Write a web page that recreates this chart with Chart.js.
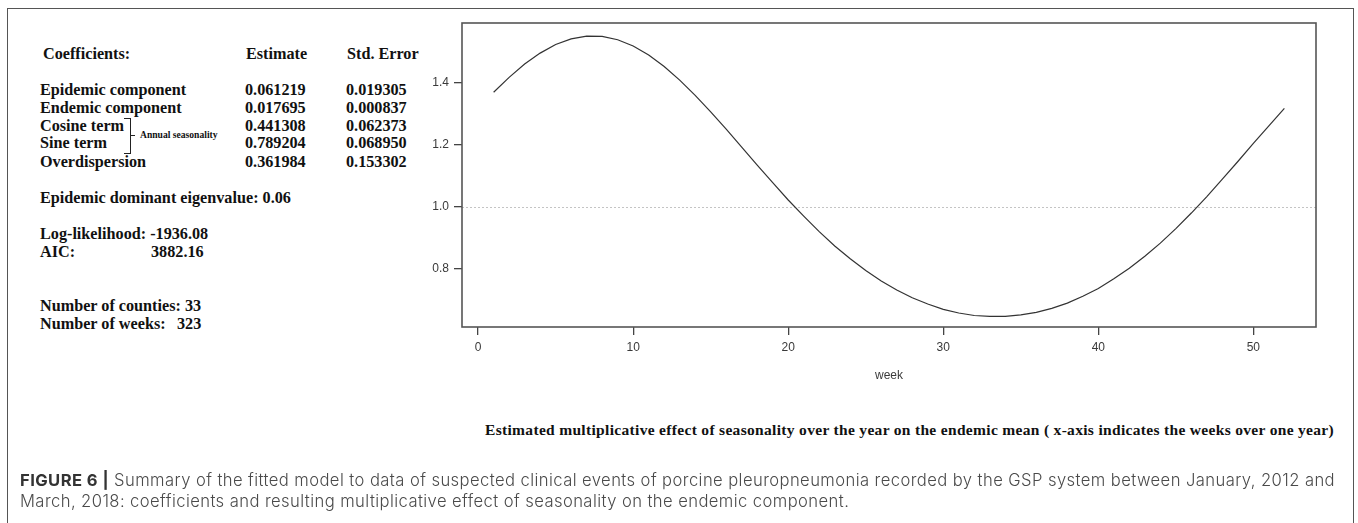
<!DOCTYPE html>
<html>
<head>
<meta charset="utf-8">
<script src="https://cdn.jsdelivr.net/npm/chart.js@4.4.1/dist/chart.umd.min.js"></script>
<style>
  html, body { margin: 0; padding: 0; background: #fff; }
  #fig { position: relative; width: 1358px; height: 523px; overflow: hidden; }
  #box { position: absolute; left: 7px; top: 8px; width: 1347px; height: 540px;
         border: 1.5px solid #555; box-sizing: border-box; }
  #chart { position: absolute; left: 0; top: 0; }
  .t { position: absolute; font-family: "Liberation Serif", "Times New Roman", serif;
       font-weight: bold; font-size: 16.2px; line-height: 18px; color: #111; white-space: pre; }
  #bracket { position: absolute; left: 124px; top: 118px; width: 6px; height: 34px;
             border: 1.3px solid #222; border-left: none; }
  #bracketTick { position: absolute; left: 131px; top: 135px; width: 4px; height: 0;
                 border-top: 1.3px solid #222; }
  #seasonNote { font-size: 9.6px; line-height: 10px; }
  #plotNote { font-size: 15.5px; }
  .cap { position: absolute; left: 20px; font-family: Inter, "Liberation Sans", Arial, sans-serif;
         font-weight: 300; font-size: 16.6px; line-height: 21px; color: #4a4a4a; white-space: pre; }
  .cap b { color: #333; font-weight: 700; }
</style>
</head>
<body>
<div id="fig">
  <div id="box"></div>
  <div id="left"></div>
  <div id="bracket"></div>
  <div id="bracketTick"></div>
  <canvas id="chart" width="1358" height="523"></canvas>
</div>
<script>
// --- data ---
const coefNames = ["Epidemic component", "Endemic component", "Cosine term", "Sine term", "Overdispersion"];
const coefEstimates = ["0.061219", "0.017695", "0.441308", "0.789204", "0.361984"];
const coefStdErrors = ["0.019305", "0.000837", "0.062373", "0.068950", "0.153302"];

const weeks = [1, 2, 3, 4, 5, 6, 7, 8, 9, 10, 11, 12, 13, 14, 15, 16, 17, 18, 19, 20,
  21, 22, 23, 24, 25, 26, 27, 28, 29, 30, 31, 32, 33, 34, 35, 36, 37, 38, 39, 40,
  41, 42, 43, 44, 45, 46, 47, 48, 49, 50, 51, 52];
const seasonEffect = [1.368, 1.416, 1.459, 1.494, 1.522, 1.540, 1.549, 1.548, 1.537, 1.517,
  1.488, 1.451, 1.407, 1.358, 1.305, 1.249, 1.191, 1.133, 1.077, 1.021,
  0.969, 0.919, 0.873, 0.832, 0.794, 0.760, 0.731, 0.706, 0.686, 0.669,
  0.657, 0.649, 0.646, 0.646, 0.651, 0.659, 0.672, 0.689, 0.711, 0.736,
  0.767, 0.801, 0.840, 0.882, 0.929, 0.979, 1.032, 1.088, 1.145, 1.203,
  1.260, 1.316];

const xTicks = [0, 10, 20, 30, 40, 50];
const yTicks = [0.8, 1.0, 1.2, 1.4];
const refLevel = 1.0;
const xRange = [-1.04, 54.04];
const yRange = [0.612, 1.591];

const plotNote = "Estimated multiplicative effect of seasonality over the year on the endemic mean ( x-axis indicates the weeks over one year)";
const captionLead = "FIGURE 6 |";
const captionLine1 = " Summary of the fitted model to data of suspected clinical events of porcine pleuropneumonia recorded by the GSP system between January, 2012 and";
const captionLine2 = "March, 2018: coefficients and resulting multiplicative effect of seasonality on the endemic component.";

// --- left text block ---
const fig = document.getElementById("fig");
const left = document.getElementById("left");
function addText(txt, x, yCenter, id) {
  const el = document.createElement("div");
  el.className = "t";
  if (id) el.id = id;
  el.textContent = txt;
  el.style.left = x + "px";
  el.style.top = (yCenter - 9) + "px";
  left.appendChild(el);
  return el;
}

// stretch a line of text to the width it has in the figure
function fitWidth(el, target) {
  const n = el.textContent.length;
  const w = el.getBoundingClientRect().width;
  const ls = (target - w) / n;
  el.style.letterSpacing = ls.toFixed(3) + "px";
  return ls;
}

addText("Coefficients:", 43, 54);
addText("Estimate", 246, 54);
addText("Std. Error", 347, 54);
const rowY = [90, 108, 126, 143, 162];
coefNames.forEach((name, i) => {
  addText(name, 40, rowY[i]);
  addText(coefEstimates[i], 245, rowY[i]);
  addText(coefStdErrors[i], 346, rowY[i]);
});
const note = addText("Annual seasonality", 140, 139, "seasonNote");
note.style.top = "130px";
addText("Epidemic dominant eigenvalue: 0.06", 40, 198);
addText("Log-likelihood: -1936.08", 40, 234);
addText("AIC:", 40, 252);
addText("3882.16", 151, 252);
addText("Number of counties: 33", 40, 306);
addText("Number of weeks:", 40, 324);
addText("323", 177, 324);

const noteEl = addText(plotNote, 485, 430, "plotNote");
fitWidth(noteEl, 1334 - 485);

const cap1 = document.createElement("div");
cap1.className = "cap";
cap1.style.top = "470px";
cap1.innerHTML = "<b>" + captionLead + "</b>";
cap1.appendChild(document.createTextNode(captionLine1));
fig.appendChild(cap1);
const capLs = fitWidth(cap1, 1335 - 20);
const cap2 = document.createElement("div");
cap2.className = "cap";
cap2.style.top = "491px";
cap2.style.letterSpacing = capLs.toFixed(3) + "px";
cap2.textContent = captionLine2;
fig.appendChild(cap2);

// --- chart ---
const rPlot = {
  id: "rPlot",
  beforeDatasetsDraw(chart) {
    const { ctx, chartArea: a, scales } = chart;
    const y = Math.round(scales.y.getPixelForValue(refLevel)) + 0.5;
    ctx.save();
    ctx.strokeStyle = "#c4c4c4";
    ctx.lineWidth = 1;
    ctx.setLineDash([2, 2]);
    ctx.beginPath();
    ctx.moveTo(a.left, y);
    ctx.lineTo(a.right, y);
    ctx.stroke();
    ctx.restore();
  },
  afterDraw(chart) {
    const { ctx, chartArea: a } = chart;
    ctx.save();
    ctx.strokeStyle = "#555";
    ctx.lineWidth = 1.6;
    ctx.strokeRect(a.left, a.top, a.right - a.left, a.bottom - a.top);
    ctx.restore();
  },
};

const tickFont = { family: "'Liberation Sans', Arial, sans-serif", size: 12 };

new Chart(document.getElementById("chart"), {
  type: "line",
  data: {
    datasets: [{
      data: weeks.map((w, i) => ({ x: w, y: seasonEffect[i] })),
      borderColor: "#333",
      borderWidth: 1.2,
      pointRadius: 0,
      tension: 0,
      fill: false,
    }],
  },
  options: {
    responsive: false,
    animation: false,
    events: [],
    layout: { padding: { left: 402, top: 23, right: 42, bottom: 136 } },
    plugins: { legend: { display: false }, tooltip: { enabled: false } },
    scales: {
      x: {
        type: "linear",
        min: xRange[0],
        max: xRange[1],
        afterBuildTicks: (s) => { s.ticks = xTicks.map((v) => ({ value: v })); },
        afterFit: (s) => { s.height = 60; },
        border: { display: false },
        grid: { drawOnChartArea: false, drawTicks: true, tickLength: 8, color: "#444", lineWidth: 1.3 },
        ticks: { font: tickFont, color: "#3a3a3a", padding: 5, maxRotation: 0 },
        title: { display: true, text: "week", font: tickFont, color: "#3a3a3a", padding: { top: 0, bottom: 4 } },
      },
      y: {
        min: yRange[0],
        max: yRange[1],
        afterBuildTicks: (s) => { s.ticks = yTicks.map((v) => ({ value: v })); },
        afterFit: (s) => { s.width = 60; },
        border: { display: false },
        grid: { drawOnChartArea: false, drawTicks: true, tickLength: 8, color: "#444", lineWidth: 1.3 },
        ticks: { font: tickFont, color: "#3a3a3a", padding: 5, callback: (v) => v.toFixed(1) },
      },
    },
  },
  plugins: [rPlot],
});
</script>
</body>
</html>
